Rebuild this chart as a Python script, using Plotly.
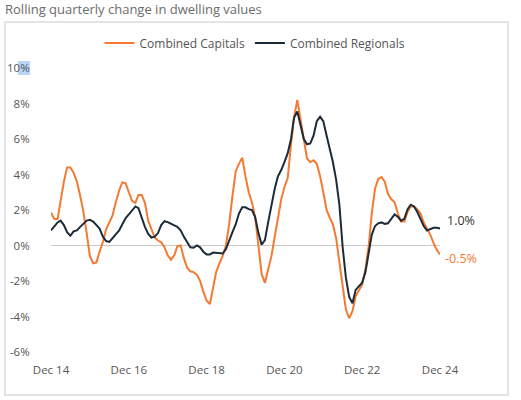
import plotly.graph_objects as go
import pandas as pd

# Monthly, Dec 2014 .. Dec 2024 (121 points)
months = pd.date_range("2014-12-01", "2024-12-01", freq="MS")

capitals = [
    1.85, 1.5, 1.5, 2.6, 3.6, 4.4, 4.4, 4.1, 3.6, 2.8,
    1.9, 0.7, -0.6, -1.0, -0.95, -0.35, 0.2, 0.9, 1.35, 1.7,
    2.45, 3.1, 3.55, 3.5, 3.0, 2.5, 2.4, 2.85, 2.85, 2.4,
    1.4, 0.9, 0.45, 0.28, 0.18, -0.1, -0.55, -0.8, -0.55, -0.05,
    0.0, -0.7, -1.25, -1.45, -1.5, -1.65, -2.0, -2.6, -3.1, -3.3,
    -2.4, -1.5, -1.0, -0.6, 0.0, 1.2, 2.8, 4.2, 4.6, 4.95,
    3.9, 3.0, 2.4, 1.6, 0.0, -1.6, -2.1, -1.4, -0.6, 0.5,
    1.6, 2.6, 3.3, 3.8, 5.7, 7.2, 8.2, 7.1, 6.0, 4.9,
    4.7, 4.8, 4.6, 3.9, 3.0, 2.0, 1.55, 1.2, 0.4, -0.9,
    -2.4, -3.6, -4.1, -3.7, -2.85, -2.5, -2.2, -1.3, 0.0, 1.8,
    3.2, 3.75, 3.85, 3.6, 2.9, 2.6, 2.45, 1.8, 1.35, 1.35,
    1.9, 2.2, 2.2, 2.05, 1.8, 1.3, 0.95, 0.6, 0.15, -0.25,
    -0.5,
]

regionals = [
    0.85, 1.1, 1.3, 1.4, 1.15, 0.75, 0.55, 0.8, 0.85, 1.05,
    1.2, 1.4, 1.45, 1.35, 1.15, 0.95, 0.5, 0.25, 0.2, 0.4,
    0.65, 0.85, 1.2, 1.55, 1.75, 2.0, 2.2, 2.1, 1.55, 1.05,
    0.65, 0.45, 0.5, 0.7, 1.15, 1.37, 1.32, 1.2, 1.13, 1.05,
    0.85, 0.5, 0.15, -0.1, -0.13, 0.0, -0.1, -0.35, -0.5, -0.5,
    -0.4, -0.42, -0.45, -0.45, -0.2, 0.3, 0.75, 1.2, 1.8, 2.15,
    2.15, 2.05, 2.0, 1.6, 0.7, 0.05, 0.3, 1.3, 2.3, 3.2,
    3.9, 4.25, 4.7, 5.2, 6.0, 7.2, 7.55, 6.7, 6.0, 5.7,
    5.75, 6.2, 7.0, 7.25, 7.0, 6.2, 5.4, 4.7, 3.7, 2.3,
    -0.1, -1.8, -2.9, -3.25, -2.5, -2.3, -2.1, -1.5, -0.4, 0.6,
    1.1, 1.25, 1.3, 1.22, 1.25, 1.5, 1.75, 1.62, 1.4, 1.5,
    2.05, 2.3, 2.2, 1.9, 1.45, 1.1, 0.85, 0.95, 1.0, 1.0,
    0.95,
]

series_names = ["Combined Capitals", "Combined Regionals"]
y_ticks = [-6, -4, -2, 0, 2, 4, 6, 8, 10]
y_tick_labels = ["-6%", "-4%", "-2%", "0%", "2%", "4%", "6%", "8%", "10%"]
x_ticks = pd.to_datetime(["2014-12-01", "2016-12-01", "2018-12-01",
                          "2020-12-01", "2022-12-01", "2024-12-01"])
x_tick_labels = ["Dec 14", "Dec 16", "Dec 18", "Dec 20", "Dec 22", "Dec 24"]
end_labels = ["-0.5%", "1.0%"]

ORANGE = "#F47A33"
NAVY = "#1D2B38"
FONT = "Open Sans"

fig = go.Figure()
fig.add_trace(go.Scatter(x=months, y=capitals, mode="lines", name=series_names[0],
                         line=dict(color=ORANGE, width=2)))
fig.add_trace(go.Scatter(x=months, y=regionals, mode="lines", name=series_names[1],
                         line=dict(color=NAVY, width=2)))

W, H = 521, 400
L, R, T, B = 51, 81, 68, 48
pw, ph = W - L - R, H - T - B


def px(x):
    return (x - L) / pw


def py(y):
    return (H - B - y) / ph


# end labels
fig.add_annotation(x=months[-1], y=regionals[-1], xref="x", yref="y", text=end_labels[1],
                   showarrow=False, xanchor="left", xshift=5, yshift=8,
                   font=dict(family=FONT, size=12.5, color="#333333"))
fig.add_annotation(x=months[-1], y=capitals[-1], xref="x", yref="y", text=end_labels[0],
                   showarrow=False, xanchor="left", xshift=3, yshift=-4,
                   font=dict(family=FONT, size=12.5, color=ORANGE))

# outer frame
fig.add_shape(type="rect", xref="paper", yref="paper",
              x0=px(5), x1=px(508), y0=py(395), y1=py(22),
              line=dict(color="#E4E4E4", width=2), layer="below")
# selection highlight behind "10"
fig.add_shape(type="rect", xref="paper", yref="paper",
              x0=px(18), x1=px(30), y0=py(75), y1=py(61),
              line=dict(width=0), fillcolor="#B7D5F7", layer="below")

fig.update_layout(
    width=W, height=H,
    margin=dict(l=L, r=R, t=T, b=B, autoexpand=False),
    paper_bgcolor="white", plot_bgcolor="white",
    font=dict(family=FONT, size=11, color="#555555"),
    title=dict(text="Rolling quarterly change in dwelling values",
               x=5 / W, xanchor="left", xref="container",
               y=1 - 9 / H, yanchor="middle", yref="container",
               font=dict(family=FONT, size=13, color="#6B6B6B")),
    legend=dict(orientation="h", xref="paper", yref="paper",
                x=px(255), xanchor="center", y=py(43), yanchor="middle",
                font=dict(family=FONT, size=12, color="#555555"),
                itemwidth=30, bgcolor="rgba(0,0,0,0)"),
    showlegend=True,
    xaxis=dict(range=[months[0], months[-1]], tickvals=x_ticks, ticktext=x_tick_labels,
               showgrid=False, zeroline=False, showline=False,
               ticks="outside", ticklen=7, tickcolor="rgba(0,0,0,0)",
               tickfont=dict(family=FONT, size=11.5, color="#555555")),
    yaxis=dict(range=[-6, 10], tickvals=y_ticks, ticktext=y_tick_labels,
               showgrid=False, zeroline=True, zerolinecolor="#C8C8C8", zerolinewidth=1,
               showline=False, ticks="outside", ticklen=18, tickcolor="rgba(0,0,0,0)",
               tickfont=dict(family=FONT, size=11.5, color="#555555")),
)

fig.write_html("out.html", config={"displayModeBar": False},
               post_script="document.body.style.margin='0px';")
